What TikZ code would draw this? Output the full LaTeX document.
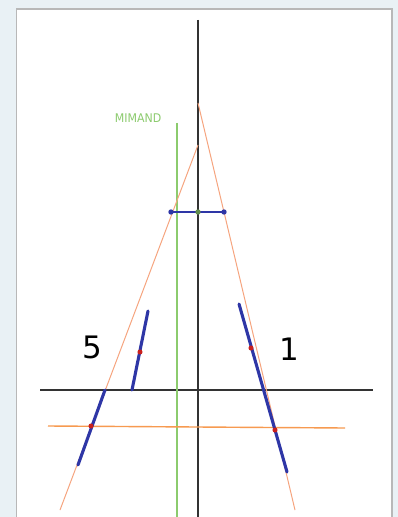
\documentclass[tikz,border=0pt]{standalone}
\usepackage{fontspec}
\setmainfont{DejaVu Sans}
\usetikzlibrary{calc}
\definecolor{paper}{HTML}{E9F1F5}
\definecolor{frame}{HTML}{B8B8B8}
\definecolor{axis}{HTML}{333333}
\definecolor{salmon}{HTML}{F6A47E}
\definecolor{amber}{HTML}{F79A50}
\definecolor{navy}{HTML}{2E36A6}
\definecolor{leaf}{HTML}{8CCB6E}
\definecolor{mark}{HTML}{C8201E}

\begin{document}
\begin{tikzpicture}[x=0.025cm, y=-0.025cm,
    axisline/.style={axis, line width=1.6pt},
    rayline/.style={salmon, line width=0.7pt},
    segline/.style={navy, line width=2.2pt, line cap=round},
    reddot/.style={circle, fill=mark, inner sep=0pt, minimum size=3.6pt},
    bluedot/.style={circle, fill=navy, inner sep=0pt, minimum size=3.8pt}]
  \useasboundingbox (0,0) rectangle (398,517);
  \clip (0,0) rectangle (398,517);
  \fill[paper] (0,0) rectangle (398,517);
  \draw[frame, fill=white, line width=1.2pt] (16.5,9) rectangle (392,540);

  % points of the figure
  \coordinate (apexL) at (198,145);
  \coordinate (apexR) at (198,103);
  \coordinate (footL) at (60,510);
  \coordinate (footR) at (295,510);

  % axes and mimand line
  \draw[axisline] (198,20) -- (198,517);
  \draw[axisline] (40,390) -- (373,390);
  \draw[leaf, line width=1.1pt] (177,123) -- (177,517);
  \node[text=leaf, font=\fontsize{8.5}{9}\selectfont, xscale=0.92] (mimand) at (138,118) {MIMAND};

  % rays and the orange horizontal
  \draw[rayline] (apexL) -- (footL);
  \draw[rayline] (apexR) -- (footR);
  \draw[amber, line width=1pt] (48,426) -- (345,428);

  % blue chord on the rays
  \coordinate (chordL) at (171,212);
  \coordinate (chordR) at (224,212);
  \draw[navy, line width=0.9pt] (chordL) -- (chordR);
  \node[bluedot] at (chordL) {};
  \node[bluedot] at (chordR) {};
  \node[circle, fill=leaf!70!black, inner sep=0pt, minimum size=3.8pt] at (198,212) {};

  % thick blue segments
  \draw[segline] (105,390) -- (78,465);
  \draw[segline] (148,311) -- (132,390);
  \draw[segline] (239,304) -- (287,472);
  \foreach \p in {(91,426), (140,352), (251,348), (275,430)}
    \node[reddot] at \p {};

  \node[font=\fontsize{22}{24}\selectfont] (five) at (92,347) {5};
  \node[font=\fontsize{22}{24}\selectfont] (one) at (289,349) {1};
\end{tikzpicture}
\end{document}
